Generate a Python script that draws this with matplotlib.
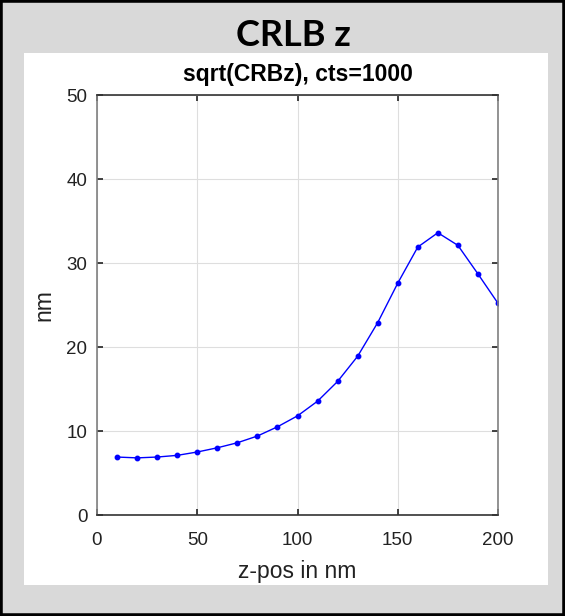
import matplotlib.pyplot as plt
from matplotlib.patches import Rectangle

# z positions (nm) and the square root of the Cramer-Rao bound for z
z_pos = [10, 20, 30, 40, 50, 60, 70, 80, 90, 100,
         110, 120, 130, 140, 150, 160, 170, 180, 190, 200]
crlb_z = [6.9, 6.8, 6.9, 7.1, 7.5, 8.0, 8.6, 9.4, 10.5, 11.8,
          13.55, 15.9, 18.9, 22.9, 27.6, 31.9, 33.6, 32.1, 28.7, 25.2]

xticks = [0, 50, 100, 150, 200]
yticks = [0, 10, 20, 30, 40, 50]

fig = plt.figure(figsize=(5.65, 6.16), dpi=100)
fig.patch.set_facecolor('#d9d9d9')

# white panel behind the axes and black frame round the figure
fig.add_artist(Rectangle((24 / 565, 1 - 585 / 616), 524 / 565, 532 / 616,
                         transform=fig.transFigure, facecolor='white',
                         edgecolor='none', zorder=0))
fig.add_artist(Rectangle((0, 0), 1, 1, transform=fig.transFigure,
                         facecolor='none', edgecolor='black', lw=4, zorder=5))

fig.text(293 / 565, 1 - 35 / 616, 'CRLB z', ha='center', va='center',
         fontsize=26, fontweight='bold', family='Lato')

ax = fig.add_axes([97 / 565, 101 / 616, 401 / 565, 420 / 616])
ax.plot(z_pos, crlb_z, color='#0000ff', lw=1, marker='o', markersize=3.2)

ax.set_xlim(0, 200)
ax.set_ylim(0, 50)
ax.set_xticks(xticks)
ax.set_yticks(yticks)
ax.grid(True, color='#dedede', lw=0.8)
ax.set_axisbelow(True)

ax.tick_params(direction='in', length=4, width=1.2, colors='#222222',
               labelsize=13.5, top=True, right=True)
ax.tick_params(axis='x', pad=12)
ax.tick_params(axis='y', pad=7)
for lbl in ax.get_xticklabels() + ax.get_yticklabels():
    lbl.set_family('Liberation Sans')
for side in ['left', 'right']:
    ax.spines[side].set_color('#808080')
for side in ['top', 'bottom']:
    ax.spines[side].set_color('#333333')
for sp in ax.spines.values():
    sp.set_linewidth(1.2)

ax.set_title('sqrt(CRBz), cts=1000', fontsize=16.5, fontweight='bold',
             family='Liberation Sans', pad=10)
ax.set_xlabel('z-pos in nm', fontsize=16.5, family='Liberation Sans',
              color='#222222', labelpad=8)
ax.set_ylabel('nm', fontsize=16.5, family='Liberation Sans',
              color='#222222', labelpad=8)

plt.savefig('out.png', dpi=100, facecolor=fig.get_facecolor())
